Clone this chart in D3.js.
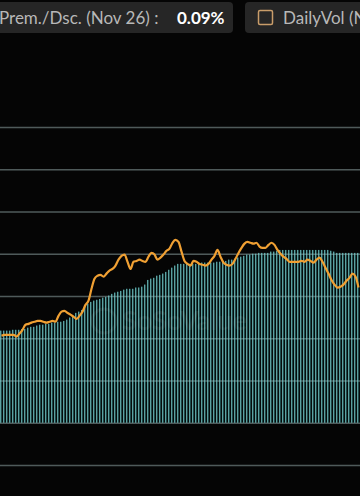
<!DOCTYPE html>
<html>
<head>
<meta charset="utf-8">
<script src="https://cdn.jsdelivr.net/npm/d3@7"></script>
<style>
html,body{margin:0;padding:0;background:#050505;overflow:hidden;}
svg{display:block;}
</style>
</head>
<body>
<svg id="chart" width="360" height="496"></svg>
<script>
// ---- data ----
const endDate = new Date(2024, 10, 26);
const categories = d3.range(120).map(i => d3.timeFormat("%b %d")(d3.timeDay.offset(endDate, i - 119)));

// bar series (daily total net assets, grid units)
const barValues = [
  2.18,2.18,2.18,2.18,2.20,2.20,2.20,2.22,2.22,2.25,
  2.27,2.27,2.30,2.32,2.32,2.34,2.34,2.37,2.37,2.39,
  2.39,2.41,2.44,2.49,2.53,2.60,2.63,2.67,2.75,2.82,
  2.86,2.89,2.91,2.93,2.96,2.98,3.01,3.05,3.08,3.10,
  3.12,3.15,3.17,3.17,3.17,3.20,3.20,3.22,3.27,3.38,
  3.41,3.43,3.48,3.50,3.53,3.57,3.62,3.67,3.72,3.76,
  3.76,3.76,3.76,3.76,3.76,3.76,3.76,3.79,3.79,3.79,
  3.79,3.79,3.81,3.81,3.81,3.83,3.86,3.86,3.88,3.91,
  3.93,3.95,3.98,3.98,4.00,4.00,4.02,4.02,4.02,4.02,
  4.05,4.05,4.07,4.09,4.09,4.09,4.09,4.09,4.09,4.09,
  4.09,4.09,4.09,4.09,4.09,4.09,4.09,4.09,4.09,4.09,
  4.07,4.05,4.02,4.02,4.02,4.02,4.02,4.02,4.02,4.02
];

// line series (price, grid units)
const lineValues = [
  2.06,2.08,2.08,2.08,2.08,2.04,2.11,2.20,2.32,2.34,
  2.37,2.39,2.41,2.41,2.39,2.37,2.39,2.41,2.39,2.53,
  2.63,2.65,2.60,2.56,2.51,2.46,2.53,2.63,2.79,2.89,
  3.17,3.41,3.48,3.50,3.46,3.53,3.60,3.64,3.72,3.86,
  3.95,3.98,3.81,3.64,3.81,3.83,3.86,3.83,3.81,3.93,
  4.02,3.98,3.86,3.91,3.98,4.07,4.12,4.26,4.33,4.28,
  4.05,3.83,3.76,3.72,3.83,3.81,3.76,3.74,3.72,3.76,
  3.86,3.95,4.09,3.93,3.79,3.74,3.72,3.76,3.88,4.02,
  4.14,4.24,4.28,4.26,4.24,4.26,4.17,4.14,4.14,4.21,
  4.26,4.21,4.09,4.00,3.93,3.88,3.81,3.81,3.81,3.81,
  3.83,3.81,3.86,3.83,3.79,3.86,3.91,3.81,3.67,3.53,
  3.38,3.27,3.20,3.22,3.27,3.36,3.43,3.53,3.46,3.20
];

const gridTicks = [-1,0,1,2,3,4,5,6,7];

const headerLabel = "Prem./Dsc. (Nov 26) :";
const headerValue = "0.09%";
const legendLabel = "DailyVol (N";
const watermark = "SoSoValue";

// ---- drawing ----
const svg = d3.select("#chart");
const W = 360, H = 496;

const x = d3.scaleBand().domain(categories).range([0, W]).paddingInner(0).paddingOuter(0);
const y = d3.scaleLinear().domain([-1, 7]).range([465, 127]);

function grid(color, op) {
  const g = svg.append("g").attr("class","grid")
    .attr("transform","translate(" + W + ",0)")
    .call(d3.axisLeft(y).tickValues(gridTicks).tickSize(W).tickFormat(""));
  g.select(".domain").remove();
  g.selectAll(".tick line").attr("stroke",color).attr("stroke-opacity",op).attr("stroke-width",1.6);
  return g;
}
grid("#3d3d3d", 1);

// bars
const bw = x.bandwidth();
const bars = svg.append("g");
bars.selectAll("rect.b").data(barValues).join("rect")
  .attr("class","b")
  .attr("x",(d,i)=>x(categories[i]))
  .attr("width", bw*0.7)
  .attr("y", d=>y(d))
  .attr("height", d=>y(0)-y(d))
  .attr("fill","#3f9d9e")
  .attr("fill-opacity",0.45);
bars.selectAll("rect.e").data(barValues).join("rect")
  .attr("class","e")
  .attr("x",(d,i)=>x(categories[i]))
  .attr("width", 1)
  .attr("y", d=>y(d))
  .attr("height", d=>y(0)-y(d))
  .attr("fill","#7fd0d0")
  .attr("fill-opacity",0.65);

// faint gridlines showing through the bars
grid("#9fdede", 0.18);

// watermark
const wm = svg.append("g").attr("opacity",0.06);
wm.append("circle").attr("cx",104).attr("cy",321).attr("r",12)
  .attr("fill","none").attr("stroke","#ffffff").attr("stroke-width",3);
wm.append("text").attr("x",122).attr("y",330).text(watermark)
  .attr("font-family","Lato, 'Open Sans', sans-serif").attr("font-size",27).attr("font-weight",700)
  .attr("fill","#ffffff");

// line
const line = d3.line()
  .x((d,i)=>x(categories[i]) + bw/2)
  .y(d=>y(d))
  .curve(d3.curveMonotoneX);
svg.append("path").datum(lineValues)
  .attr("d", line)
  .attr("fill","none")
  .attr("stroke","#f0a033")
  .attr("stroke-width",2.2)
  .attr("stroke-linejoin","round");

// header boxes
const hdr = svg.append("g");
hdr.append("rect").attr("x",-10).attr("y",2).attr("width",243).attr("height",31).attr("rx",4)
  .attr("fill","#262626");
hdr.append("text").attr("x",-1).attr("y",23.5).text(headerLabel)
  .attr("font-family","Lato, sans-serif").attr("font-size",17).attr("fill","#b8b8b8");
hdr.append("text").attr("x",177).attr("y",23.5).text(headerValue)
  .attr("font-family","Lato, sans-serif").attr("font-size",17).attr("font-weight",700).attr("fill","#ffffff");

hdr.append("rect").attr("x",245).attr("y",2).attr("width",130).attr("height",31).attr("rx",4)
  .attr("fill","#262626");
hdr.append("rect").attr("x",258.5).attr("y",10.5).attr("width",14).attr("height",14).attr("rx",1.5)
  .attr("fill","none").attr("stroke","#c99d6a").attr("stroke-width",1.5);
hdr.append("text").attr("x",283).attr("y",23.5).text(legendLabel)
  .attr("font-family","Lato, sans-serif").attr("font-size",17).attr("fill","#b8b8b8");
</script>
</body>
</html>
